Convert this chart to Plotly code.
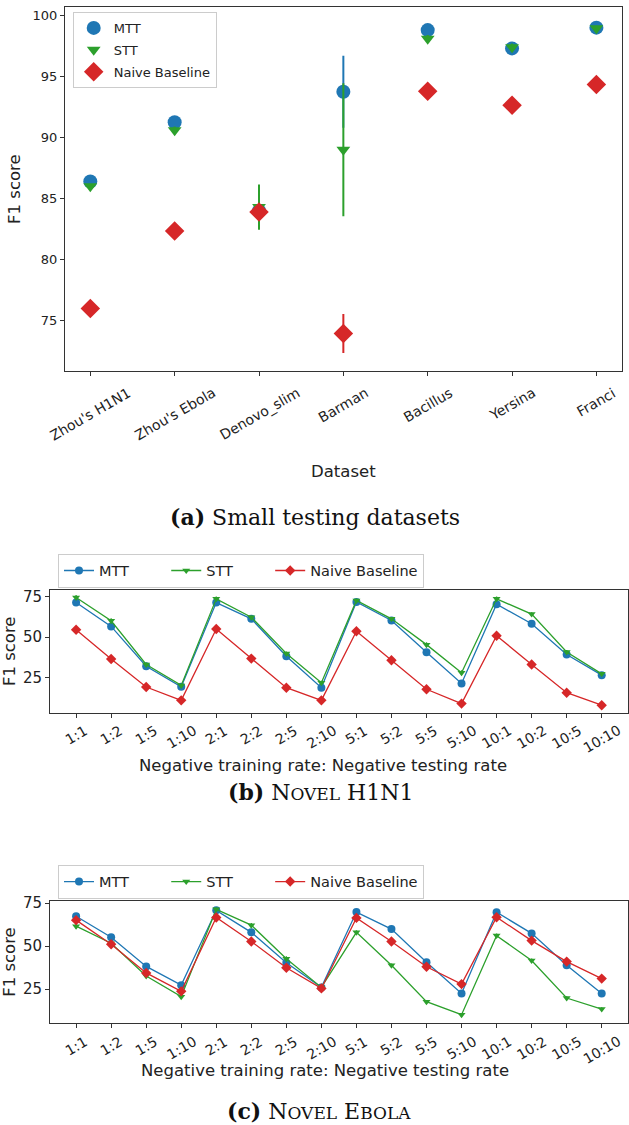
import plotly.graph_objects as go

# ---------------- data ----------------
datasets = ["Zhou's H1N1", "Zhou's Ebola", "Denovo_slim", "Barman", "Bacillus", "Yersina", "Franci"]
mtt_a = [86.4, 91.25, 84.0, 93.75, 98.8, 97.3, 99.0]
mtt_a_err = [0.2, 0.2, 0.8, 2.95, 0.2, 0.3, 0.2]
stt_a = [86.0, 90.6, 84.3, 89.0, 98.1, 97.4, 98.95]
stt_a_err = [0.2, 0.3, 1.85, 5.45, 0.3, 0.3, 0.2]
naive_a = [76.0, 82.35, 83.9, 73.95, 93.8, 92.65, 94.35]
naive_a_err = [0.1, 0.1, 0.1, 1.6, 0.1, 0.1, 0.1]

rates = ["1:1", "1:2", "1:5", "1:10", "2:1", "2:2", "2:5", "2:10",
         "5:1", "5:2", "5:5", "5:10", "10:1", "10:2", "10:5", "10:10"]

mtt_b = [71.3, 56.6, 32.1, 19.5, 71.3, 61.3, 38.3, 18.9, 71.7, 60.3, 40.7, 21.5, 70.3, 58.3, 39.3, 26.6]
stt_b = [74.4, 60.1, 33.2, 20.3, 73.6, 62.3, 39.9, 21.9, 72.6, 61.3, 45.4, 28.1, 73.6, 64.2, 40.9, 27.4]
naive_b = [54.6, 36.6, 19.3, 11.1, 55.0, 36.8, 18.9, 11.1, 53.6, 35.8, 17.9, 9.1, 50.9, 33.2, 15.8, 8.1]
mtt_b_err = [1.2, 1.5, 1.2, 1.0, 1.2, 1.0, 1.3, 1.2, 1.0, 1.0, 1.5, 1.2, 1.2, 1.3, 1.2, 1.0]
stt_b_err = [1.5, 1.5, 1.2, 1.0, 1.5, 1.0, 1.2, 1.2, 1.2, 1.0, 1.5, 1.5, 1.5, 1.2, 1.2, 1.0]
naive_b_err = [1.5, 1.5, 1.5, 1.5, 1.5, 1.5, 1.5, 1.5, 1.5, 1.5, 1.5, 1.5, 1.5, 1.5, 1.5, 1.5]

mtt_c = [67.4, 55.2, 38.2, 27.3, 70.8, 58.0, 40.3, 26.0, 69.8, 59.9, 40.6, 22.5, 69.7, 57.4, 38.9, 22.5]
stt_c = [61.6, 51.7, 32.6, 20.6, 71.4, 62.2, 42.6, 26.0, 58.0, 38.9, 17.7, 10.1, 56.1, 41.6, 19.8, 13.4]
naive_c = [65.1, 51.1, 34.4, 23.7, 66.6, 52.7, 37.4, 25.4, 66.4, 52.7, 38.0, 27.9, 66.8, 53.2, 41.0, 31.1]
mtt_c_err = [1.5, 1.5, 1.2, 1.2, 1.5, 1.5, 1.5, 1.2, 1.2, 1.2, 1.2, 1.2, 1.2, 1.5, 1.5, 1.0]
stt_c_err = [1.5, 1.2, 1.2, 1.2, 1.2, 1.2, 1.5, 1.2, 1.2, 1.0, 1.0, 1.0, 1.2, 1.2, 1.0, 1.0]
naive_c_err = [2.0, 2.0, 2.0, 2.0, 2.0, 2.0, 2.0, 2.0, 2.0, 2.0, 2.0, 2.0, 2.0, 2.0, 2.0, 2.0]

series_names = ["MTT", "STT", "Naive Baseline"]

BLUE, GREEN, RED = "#1f77b4", "#2ca02c", "#d62728"
FONT = "DejaVu Sans"
SERIF = "DejaVu Serif"
W, H = 629, 1125
NB = "\u00a0"


def py(px):
    return (H - px) / H


def pxx(px):
    return px / W


fig = go.Figure()

# ---------------- (a) ----------------
for name, vals, err, col, sym, sz in [
    (series_names[0], mtt_a, mtt_a_err, BLUE, "circle", 14),
    (series_names[1], stt_a, stt_a_err, GREEN, "triangle-down", 12),
    (series_names[2], naive_a, naive_a_err, RED, "diamond", 15),
]:
    fig.add_trace(go.Scatter(
        x=datasets, y=vals, mode="markers", name=name, legendgroup="a" + name,
        marker=dict(color=col, symbol=sym, size=sz, line=dict(width=0)),
        error_y=dict(type="data", array=err, color=col, thickness=2, width=0),
        xaxis="x", yaxis="y", legend="legend"))

# ---------------- (b) and (c) ----------------
pads = [NB * 7, NB * 7, ""]
for (xa, ya, leg, series) in [
    ("x2", "y2", "legend2", [(mtt_b, mtt_b_err), (stt_b, stt_b_err), (naive_b, naive_b_err)]),
    ("x3", "y3", "legend3", [(mtt_c, mtt_c_err), (stt_c, stt_c_err), (naive_c, naive_c_err)]),
]:
    for (vals, err), name, pad, col, sym, sz in zip(series, series_names, pads,
                                                    [BLUE, GREEN, RED],
                                                    ["circle", "triangle-down", "diamond"],
                                                    [8, 7, 8]):
        fig.add_trace(go.Scatter(
            x=rates, y=vals, mode="lines+markers", name=name + pad,
            line=dict(color=col, width=1.3),
            marker=dict(color=col, symbol=sym, size=sz, line=dict(width=0)),
            error_y=dict(type="data", array=err, color=col, thickness=1.3, width=0),
            xaxis=xa, yaxis=ya, legend=leg))

axis_common = dict(showline=True, mirror=True, linecolor="#333", linewidth=1,
                   ticks="outside", ticklen=4, tickcolor="#333", showgrid=False,
                   zeroline=False, tickfont=dict(family=FONT, size=13, color="#222"))

fig.update_layout(
    width=W, height=H, margin=dict(l=0, r=0, t=0, b=0),
    paper_bgcolor="white", plot_bgcolor="white",
    font=dict(family=FONT, color="#222"),
    xaxis=dict(axis_common, domain=[pxx(65), pxx(621.7)], range=[-0.3, 6.3],
               type="category", showticklabels=False, anchor="y"),
    yaxis=dict(axis_common, domain=[py(366), py(0.5)], range=[70.9, 100.65],
               tickvals=[75, 80, 85, 90, 95, 100], anchor="x",
               title=dict(text="F1 score", font=dict(size=16.5), standoff=7)),
    xaxis2=dict(axis_common, domain=[pxx(50), pxx(627.8)], range=[-0.745, 15.745],
                type="category", showticklabels=False, anchor="y2"),
    yaxis2=dict(axis_common, domain=[py(710), py(586.7)], range=[3.57, 79.0],
                tickvals=[25, 50, 75], anchor="x2",
                tickfont=dict(family=FONT, size=15, color="#222"),
                title=dict(text="F1 score", font=dict(size=16.5), standoff=9)),
    xaxis3=dict(axis_common, domain=[pxx(50), pxx(627.8)], range=[-0.745, 15.745],
                type="category", showticklabels=False, anchor="y3"),
    yaxis3=dict(axis_common, domain=[py(1022), py(900)], range=[5.5, 76.0],
                tickvals=[25, 50, 75], anchor="x3",
                tickfont=dict(family=FONT, size=15, color="#222"),
                title=dict(text="F1 score", font=dict(size=16.5), standoff=10)),
    legend=dict(x=pxx(72.7), y=py(5), xanchor="left", yanchor="top",
                bordercolor="#ccc", borderwidth=1, bgcolor="rgba(255,255,255,0.8)",
                font=dict(family=FONT, size=13), tracegroupgap=2),
    legend2=dict(x=pxx(58), y=py(550), xanchor="left", yanchor="top", orientation="h",
                 bordercolor="#ccc", borderwidth=1, bgcolor="white",
                 font=dict(family=FONT, size=14.5)),
    legend3=dict(x=pxx(58), y=py(863), xanchor="left", yanchor="top", orientation="h",
                 bordercolor="#ccc", borderwidth=1, bgcolor="white",
                 font=dict(family=FONT, size=14.5)),
    showlegend=True,
)

ann = []
# rotated, centred tick labels
for d in datasets:
    ann.append(dict(x=d, y=0, xref="x", yref="y domain", text=d, textangle=-30,
                    showarrow=False, xanchor="center", yanchor="top", yshift=-11,
                    font=dict(family=FONT, size=14, color="#222")))
for xr, yr, ys in [("x2", "y2 domain", -7), ("x3", "y3 domain", -8)]:
    for r in rates:
        ann.append(dict(x=r, y=0, xref=xr, yref=yr, text=r, textangle=-30,
                        showarrow=False, xanchor="center", yanchor="top", yshift=ys,
                        font=dict(family=FONT, size=14, color="#222")))

# x-axis titles
for txt, cx, cy in [("Dataset", 343, 467),
                    ("Negative training rate: Negative testing rate", 323, 763),
                    ("Negative training rate: Negative testing rate", 325, 1070)]:
    ann.append(dict(x=pxx(cx), y=py(cy), xref="paper", yref="paper", showarrow=False,
                    text=txt, xanchor="center", yanchor="middle",
                    font=dict(family=FONT, size=16.5, color="#222")))

# captions
ann.append(dict(x=pxx(315), y=py(513), xref="paper", yref="paper", showarrow=False,
                text="<b>(a)</b> Small testing datasets",
                font=dict(family=SERIF, size=22, color="#111")))
ann.append(dict(x=pxx(320.5), y=py(805), xref="paper", yref="paper", showarrow=False,
                text="<b>(b)</b> N<span style='font-size:17px'>OVEL</span> H1N1",
                font=dict(family=SERIF, size=22, color="#111")))
ann.append(dict(x=pxx(318.5), y=py(1126), xref="paper", yref="paper", showarrow=False,
                text="<b>(c)</b> N<span style='font-size:17px'>OVEL</span> E<span style='font-size:17px'>BOLA</span>",
                font=dict(family=SERIF, size=22, color="#111")))

fig.update_layout(annotations=ann)
fig.write_html("out.html", config={"displayModeBar": False},
               post_script="document.body.style.margin='0';document.body.style.overflow='hidden';")
